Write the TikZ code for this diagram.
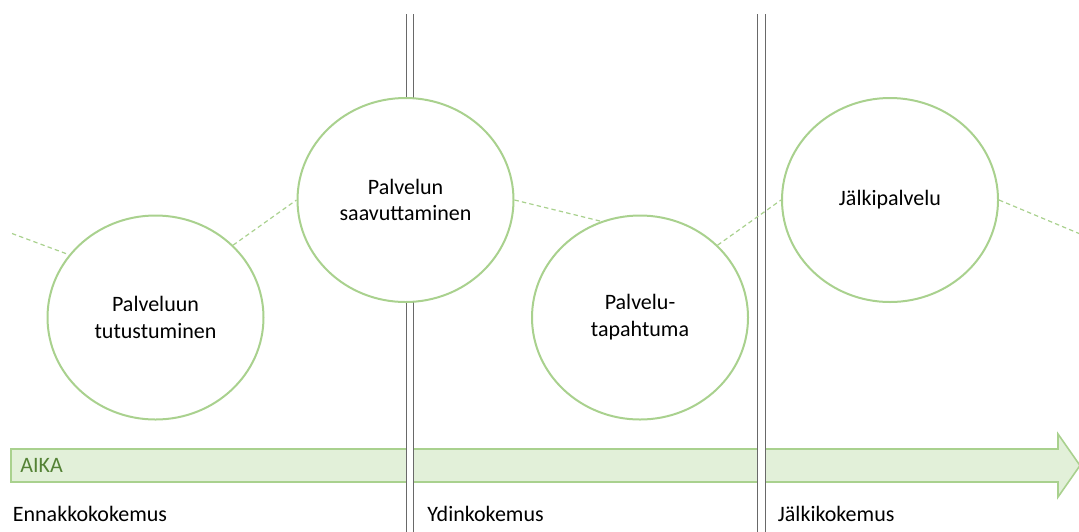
\documentclass[tikz,border=0pt]{standalone}
\usepackage{fontspec}
\setmainfont{Carlito}
\usetikzlibrary{shapes.geometric}
\definecolor{phaseLine}{RGB}{169,209,142}
\definecolor{phaseFill}{RGB}{226,240,217}
\definecolor{timeText}{RGB}{84,130,53}
\definecolor{wallGray}{RGB}{105,105,105}

\begin{document}
\begin{tikzpicture}[x=0.5pt, y=-0.5pt,
    stage/.style={ellipse,draw=phaseLine,line width=1pt,fill=white,minimum width=108pt,minimum height=102pt,inner sep=0pt,align=center,font=\fontsize{11}{13.4}\selectfont},
    phase/.style={anchor=base west,inner sep=0pt,font=\fontsize{11}{13.4}\selectfont},
    link/.style={draw=phaseLine,line width=0.6pt,dash pattern=on 2.2pt off 1.6pt},
    wall/.style={draw=wallGray,line width=0.55pt,double=white,double distance=3.1pt}]
    \useasboundingbox (0,0) rectangle (1079,531);

    % time arrow
    \draw[phaseLine,fill=phaseFill,line width=0.8pt] (11,449) -- (1058,449) -- (1058,434) -- (1080,465.5) -- (1058,497) -- (1058,482) -- (11,482) -- cycle;
    \node[anchor=west,inner sep=0pt,text=timeText,font=\fontsize{11}{13.4}\selectfont] (aika) at (20,465.5) {AIKA};

    % phase borders
    \coordinate (w1t) at (409.7,14);
    \coordinate (w1b) at (409.7,532);
    \coordinate (w2t) at (761.5,14);
    \coordinate (w2b) at (761.5,532);
    \draw[wall] (w1t) -- (w1b);
    \draw[wall] (w2t) -- (w2b);

    \node[stage] (tutustuminen) at (155.5,317.5) {Palveluun\\tutustuminen};
    \node[stage] (saavuttaminen) at (405.5,200) {Palvelun\\saavuttaminen};
    \node[stage] (tapahtuma) at (640,317.5) {Palvelu-\\tapahtuma};
    \node[stage] (jalkipalvelu) at (890,200) {Jälkipalvelu};

    \coordinate (inL) at (12,233.5);
    \coordinate (outR) at (1079,233.5);
    \draw[link] (inL) -- (tutustuminen.144);
    \draw[link] (tutustuminen.43) -- (saavuttaminen.180);
    \draw[link] (saavuttaminen.0) -- (tapahtuma.112);
    \draw[link] (tapahtuma.43) -- (jalkipalvelu.180);
    \draw[link] (jalkipalvelu.0) -- (outR);

    \node[phase] (ennakko) at (12.5,521) {Ennakkokokemus};
    \node[phase] (ydin) at (427,521) {Ydinkokemus};
    \node[phase] (jalki) at (777.5,521) {Jälkikokemus};
\end{tikzpicture}
\end{document}
